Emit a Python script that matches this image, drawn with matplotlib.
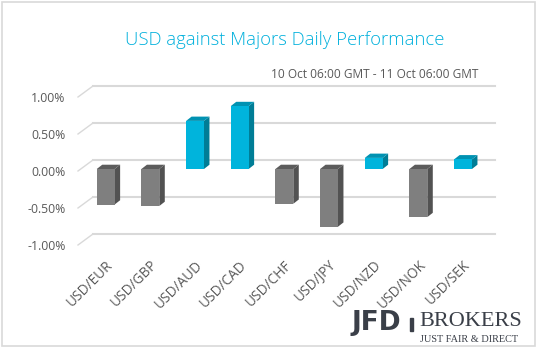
import numpy as np
import matplotlib.pyplot as plt
from matplotlib.patches import Polygon, Rectangle

# Dados (%)
pares = ['USD/EUR', 'USD/GBP', 'USD/AUD', 'USD/CAD', 'USD/CHF',
         'USD/JPY', 'USD/NZD', 'USD/NOK', 'USD/SEK']
variacao = [-0.48, -0.50, 0.65, 0.85, -0.47, -0.78, 0.15, -0.65, 0.13]
y_ticks = [-1.0, -0.5, 0.0, 0.5, 1.0]
y_labels = ['-1.00%', '-0.50%', '0.00%', '0.50%', '1.00%']

AZUL = ('#00b4dc', '#007d96', '#0092b2')   # frente, lateral, topo
CINZA = ('#7f7f7f', '#525252', '#5c5c5c')

fig = plt.figure(figsize=(5.38, 3.51), dpi=100)
ax = fig.add_axes([78 / 538, 106 / 351, 402 / 538, 148 / 351])

# profundidade da parede e das barras (unidades de dados)
wall_dx, wall_dy = 0.336, 0.149
bar_dx, bar_dy = 0.123, 0.058
base = 0.027   # as barras ficam um pouco atrás do plano da frente
largura = 0.4
xmin, xmax = -0.62, 8.38

# linhas de grade na parede do fundo + diagonais do piso lateral
for v in y_ticks:
    ax.plot([xmin + wall_dx, xmax + wall_dx], [v + wall_dy, v + wall_dy],
            color='#d9d9d9', lw=1.5, clip_on=False, zorder=1)
    ax.plot([xmin, xmin + wall_dx], [v, v + wall_dy],
            color='#d9d9d9', lw=1.0, clip_on=False, zorder=1)

x = np.arange(len(pares))
for xi, v in zip(x, variacao):
    frente, lateral, topo = AZUL if v > 0 else CINZA
    esq, dir_ = xi - largura / 2, xi + largura / 2
    b0, b1 = base, v + base
    alto = max(b0, b1)
    ax.bar(xi, v, width=largura, bottom=base, color=frente, zorder=3)
    ax.add_patch(Polygon([(dir_, b0), (dir_ + bar_dx, b0 + bar_dy),
                          (dir_ + bar_dx, b1 + bar_dy), (dir_, b1)],
                         closed=True, facecolor=lateral, edgecolor='none', zorder=2))
    ax.add_patch(Polygon([(esq, alto), (esq + bar_dx, alto + bar_dy),
                          (dir_ + bar_dx, alto + bar_dy), (dir_, alto)],
                         closed=True, facecolor=topo, edgecolor='none', zorder=2))

ax.set_xlim(xmin, xmax)
ax.set_ylim(-1.0, 1.0)
ax.set_yticks(y_ticks)
ax.set_yticklabels(y_labels, fontsize=8.8, color='#595959', family='Open Sans')
ax.set_xticks(x)
ax.set_xticklabels(pares, rotation=45, ha='right', rotation_mode='anchor',
                   fontsize=9.8, color='#595959', family='Open Sans')
ax.tick_params(length=0)
ax.tick_params(axis='y', pad=9)
ax.tick_params(axis='x', pad=9)
for s in ax.spines.values():
    s.set_visible(False)

# títulos
fig.text(285 / 538, 1 - 40 / 351, 'USD against Majors Daily Performance',
         ha='center', va='center', fontsize=13.3, color='#00b0dc',
         family='Open Sans', fontweight='light')
fig.text(478 / 538, 1 - 74 / 351, '10 Oct 06:00 GMT - 11 Oct 06:00 GMT',
         ha='right', va='center', fontsize=8.6, color='#595959', family='Open Sans')

# logotipo
fig.text(352 / 538, 1 - 323 / 351, 'JFD', ha='left', va='center', fontsize=19,
         fontweight='bold', color='#3a3f48', family='DejaVu Sans')
fig.patches.append(Rectangle((410 / 538, 1 - 331 / 351), 2.5 / 538, 13 / 351,
                             transform=fig.transFigure, color='#3a3f48'))
fig.text(419 / 538, 1 - 321 / 351, 'BROKERS', ha='left', va='center', fontsize=16,
         color='#3a3f48', family='Liberation Serif')
fig.text(420 / 538, 1 - 339.5 / 351, 'JUST FAIR & DIRECT', ha='left', va='center',
         fontsize=7.4, color='#3a3f48', family='Liberation Serif')

# moldura
fig.patches.append(Rectangle((2 / 538, 5 / 351), 533 / 538, 344 / 351,
                             transform=fig.transFigure, fill=False,
                             edgecolor='#d9d9d9', lw=1.2))

fig.savefig('out.png', dpi=100)
